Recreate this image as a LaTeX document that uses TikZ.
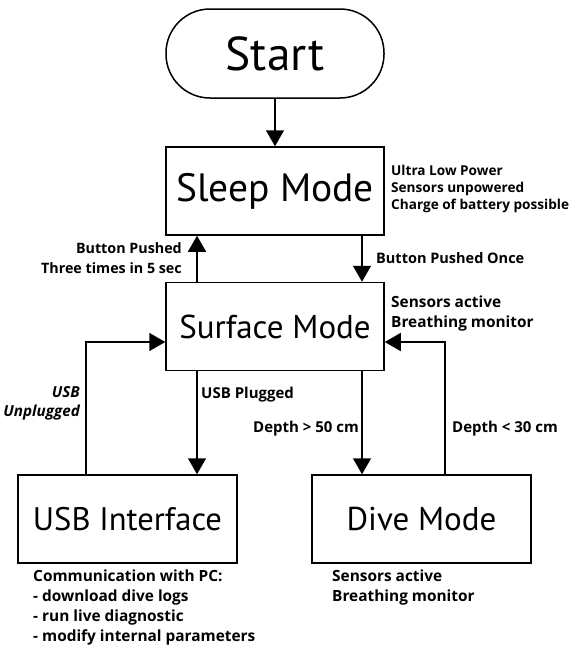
\documentclass[tikz,border=0pt]{standalone}
\usepackage{fontspec}
\setmainfont{Open Sans}
\newfontfamily\boxfont{PT Sans}
\usetikzlibrary{arrows.meta}
\begin{document}
\begin{tikzpicture}[x=1pt,y=-1pt,
  blk/.style={draw,line width=1.5pt,minimum width=218pt,minimum height=88pt,inner sep=0pt,font=\boxfont\fontsize{39.5}{41}\selectfont},
  midtext/.style={font=\boxfont\fontsize{33}{35}\selectfont},
  note/.style={font=\bfseries\fontsize{15.4}{20}\selectfont,align=left,inner sep=0pt},
  lab/.style={font=\bfseries\fontsize{15}{20}\selectfont,inner sep=0pt},
  arr/.style={line width=1.5pt,-{Triangle[length=16pt,width=18pt]}}]
\useasboundingbox (0,0) rectangle (571,646);
\node[blk,rounded corners=44pt,minimum height=89pt,font=\boxfont\fontsize{47.5}{49}\selectfont] (start) at (275,53.5) {Start};
\node[blk] (sleep) at (275,191) {Sleep Mode};
\node[blk,midtext] (surf) at (275,326.5) {Surface Mode};
\node[blk,midtext,minimum width=219pt,font=\boxfont\fontsize{32.6}{35}\selectfont] (usb) at (127.5,519) {USB Interface};
\node[blk,midtext,minimum width=219pt] (dive) at (421.5,519) {Dive Mode};
% notes
\node[note,anchor=north west,font=\bfseries\fontsize{13.6}{17}\selectfont] (n1) at (391,165) {Ultra Low Power\\Sensors unpowered\\Charge of battery possible};
\node[note,anchor=north west] (n2) at (391,296) {Sensors active\\Breathing monitor};
\node[note,anchor=north west,font=\bfseries\fontsize{15.4}{19.7}\selectfont] (n3) at (33,570) {Communication with PC:\\- download dive logs\\- run live diagnostic\\- modify internal parameters};
\node[note,anchor=north west] (n4) at (332,570) {Sensors active\\Breathing monitor};
% arrows
\draw[arr] (start) -- (sleep);
\draw[arr] (surf.north west -| 197,0) -- (sleep.south west -| 197,0);
\draw[arr] (sleep.south west -| 362,0) -- (surf.north west -| 362,0);
\draw[arr] (surf.south west -| 197,0) -- (usb.north west -| 197,0);
\draw[arr] (surf.south west -| 362,0) -- (dive.north west -| 362,0);
\draw[arr] (usb.north west -| 86,0) |- (surf.west |- 0,342);
\draw[arr] (dive.north west -| 445,0) |- (surf.east |- 0,342);
% labels
\node[lab,align=right,anchor=east,font=\bfseries\fontsize{14.3}{20}\selectfont] (l1) at (182,258) {Button Pushed\\Three times in 5 sec};
\node[lab,anchor=west,font=\bfseries\fontsize{14.5}{20}\selectfont] (l2) at (376,258) {Button Pushed Once};
\node[lab,anchor=west] (l3) at (201,395) {USB Plugged};
\node[lab,anchor=east] (l4) at (359,429) {Depth > 50 cm};
\node[lab,anchor=west] (l5) at (452,429) {Depth < 30 cm};
\node[lab,align=right,anchor=east,font=\bfseries\itshape\fontsize{15.2}{19}\selectfont] (l6) at (80,403.5) {USB\\Unplugged};
\end{tikzpicture}
\end{document}
